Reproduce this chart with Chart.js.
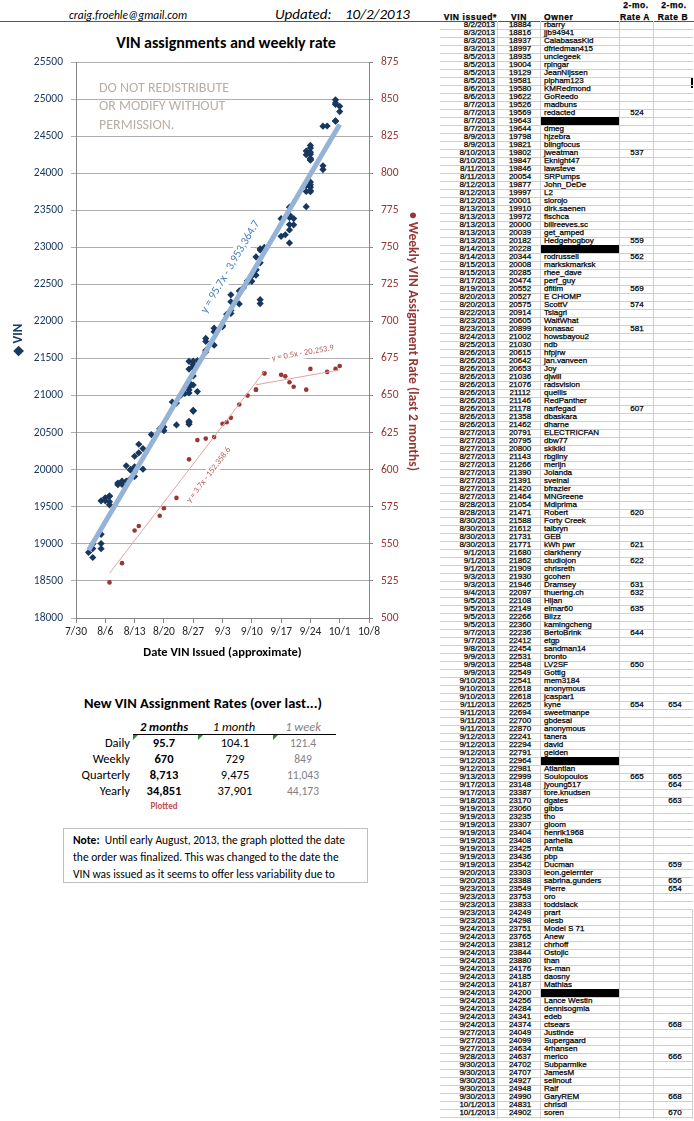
<!DOCTYPE html>
<html>
<head>
<meta charset="utf-8">
<script src="https://cdn.jsdelivr.net/npm/chart.js@4.4.0/dist/chart.umd.min.js"></script>
<style>
  body { margin: 0; background: #fff; font-family: Carlito, Lato, sans-serif; color: #000; }
  #page { position: relative; width: 694px; height: 1121px; overflow: hidden; }
  .abs { position: absolute; white-space: nowrap; }
  #vinChart { position: absolute; left: 0; top: 30px; }
  #rule { position: absolute; left: 0; top: 21px; width: 694px; height: 1px; background: #595959; }
  #note { position: absolute; left: 63px; top: 828px; width: 305px; height: 55px; border: 1px solid #bfbfbf; overflow: hidden;
          font-size: 11.5px; line-height: 17px; padding: 3px 0 0 9px; box-sizing: border-box; white-space: nowrap; }
  #vinTable { position: absolute; left: 0; top: 0; font-family: "Liberation Sans", Arial, sans-serif; font-size: 8px;
              -webkit-text-stroke: 0.25px #000; }
  .cell { position: absolute; line-height: 8px; height: 8px; white-space: nowrap; }
  .hline { position: absolute; height: 1px; background: #cfcfcf; }
  .vline { position: absolute; width: 1px; background: #cfcfcf; }
  .tri { position: absolute; width: 0; height: 0; border-top: 5px solid #2e8b2e; border-right: 5px solid transparent; }
</style>
</head>
<body>
<div id="page">
  <div class="abs" style="left:69px; top:7px; font-size:11.5px; font-style:italic; line-height:16px;">craig.froehle@gmail.com</div>
  <div class="abs" style="left:275px; top:5px; font-size:15px; font-style:italic; line-height:18px;">Updated:</div>
  <div class="abs" style="left:345px; top:5px; font-size:15px; font-style:italic; line-height:18px;">10/2/2013</div>
  <div id="rule"></div>
  <div class="abs" style="left:226px; top:34px; transform:translateX(-50%); font-size:16px; font-weight:bold; line-height:18px;">VIN assignments and weekly rate</div>

  <canvas id="vinChart" width="425" height="640"></canvas>

  <div class="abs" style="left:99px; top:79px; font-size:14px; line-height:18.3px; color:#b8aea4;">DO NOT REDISTRIBUTE<br>OR MODIFY WITHOUT<br>PERMISSION.</div>
  <div class="abs" style="left:404px; top:212px; writing-mode:vertical-rl; font-size:13.5px; font-weight:bold; color:#953735; line-height:18px;">&#8226; Weekly VIN Assignment Rate (last 2 months)</div>

  <div id="rates"></div>
  <div id="note"><b>Note:</b>&nbsp; Until early August, 2013, the graph plotted the date<br>the order was finalized. This was changed to the date the<br>VIN was issued as it seems to offer less variability due to</div>

  <div id="vinTable"></div>
</div>

<script>
// ---- data (read from the sheet on the right) ----
const _ = null;
const issuedDates = [
  '8/2/2013', '8/3/2013', '8/3/2013', '8/3/2013', '8/5/2013', '8/5/2013', '8/5/2013', '8/5/2013', '8/6/2013', '8/6/2013',
  '8/7/2013', '8/7/2013', '8/7/2013', '8/7/2013', '8/9/2013', '8/9/2013', '8/10/2013', '8/10/2013', '8/11/2013', '8/11/2013',
  '8/12/2013', '8/12/2013', '8/12/2013', '8/13/2013', '8/13/2013', '8/13/2013', '8/13/2013', '8/13/2013', '8/14/2013', '8/14/2013',
  '8/15/2013', '8/15/2013', '8/17/2013', '8/19/2013', '8/20/2013', '8/20/2013', '8/22/2013', '8/23/2013', '8/23/2013', '8/24/2013',
  '8/25/2013', '8/26/2013', '8/26/2013', '8/26/2013', '8/26/2013', '8/26/2013', '8/26/2013', '8/26/2013', '8/26/2013', '8/26/2013',
  '8/26/2013', '8/27/2013', '8/27/2013', '8/27/2013', '8/27/2013', '8/27/2013', '8/27/2013', '8/27/2013', '8/27/2013', '8/27/2013',
  '8/28/2013', '8/28/2013', '8/30/2013', '8/30/2013', '8/30/2013', '8/30/2013', '9/1/2013', '9/1/2013', '9/1/2013', '9/3/2013',
  '9/3/2013', '9/4/2013', '9/5/2013', '9/5/2013', '9/5/2013', '9/5/2013', '9/7/2013', '9/7/2013', '9/8/2013', '9/9/2013',
  '9/9/2013', '9/9/2013', '9/10/2013', '9/10/2013', '9/10/2013', '9/11/2013', '9/11/2013', '9/11/2013', '9/11/2013', '9/12/2013',
  '9/12/2013', '9/12/2013', '9/12/2013', '9/12/2013', '9/13/2013', '9/17/2013', '9/17/2013', '9/18/2013', '9/19/2013', '9/19/2013',
  '9/19/2013', '9/19/2013', '9/19/2013', '9/19/2013', '9/19/2013', '9/19/2013', '9/20/2013', '9/20/2013', '9/23/2013', '9/23/2013',
  '9/23/2013', '9/23/2013', '9/23/2013', '9/24/2013', '9/24/2013', '9/24/2013', '9/24/2013', '9/24/2013', '9/24/2013', '9/24/2013',
  '9/24/2013', '9/24/2013', '9/24/2013', '9/24/2013', '9/24/2013', '9/24/2013', '9/27/2013', '9/27/2013', '9/27/2013', '9/28/2013',
  '9/30/2013', '9/30/2013', '9/30/2013', '9/30/2013', '9/30/2013', '10/1/2013', '10/1/2013'
];
const vinNumbers = [
  18884, 18816, 18937, 18997, 18935, 19004, 19129, 19581, 19580, 19622,
  19526, 19569, 19643, 19644, 19798, 19821, 19802, 19847, 19846, 20054,
  19877, 19997, 20001, 19910, 19972, 20000, 20039, 20182, 20228, 20344,
  20008, 20285, 20474, 20552, 20527, 20575, 20914, 20605, 20899, 21002,
  21030, 20615, 20642, 20653, 21036, 21076, 21112, 21146, 21178, 21358,
  21462, 20791, 20795, 20800, 21143, 21266, 21390, 21391, 21420, 21464,
  21054, 21471, 21588, 21612, 21731, 21771, 21680, 21862, 21909, 21930,
  21946, 22097, 22108, 22149, 22266, 22360, 22236, 22412, 22454, 22531,
  22548, 22549, 22541, 22618, 22618, 22625, 22694, 22700, 22870, 22241,
  22294, 22791, 22964, 22981, 22999, 23148, 23387, 23170, 23060, 23235,
  23307, 23404, 23408, 23425, 23436, 23542, 23303, 23388, 23549, 23753,
  23833, 24249, 24298, 23751, 23765, 23812, 23844, 23880, 24176, 24185,
  24187, 24200, 24256, 24284, 24341, 24374, 24049, 24099, 24634, 24637,
  24702, 24707, 24927, 24948, 24990, 24831, 24902
];
const ownerNames = [
  'rbarry', 'jjb94941', 'CalabasasKid', 'dfriedman415', 'unclegeek', 'rpingar', 'JeanNijssen', 'plpham123', 'KMRedmond', 'GoReedo',
  'madbuns', 'redacted', _, 'dmeg', 'hjzebra', 'blingfocus', 'jweatman', 'Eknight47', 'lawsteve', 'SRPumps',
  'John_DeDe', 'L2', 'slorojo', 'dirk.saenen', 'fischca', 'billreeves.sc', 'get_amped', 'Hedgehogboy', _, 'rodrussell',
  'markskmarksk', 'rhee_dave', 'perf_guy', 'dfitim', 'E CHOMP', 'ScottV', 'Tslagrl', 'WaitWhat', 'konasac', 'howsbayou2',
  'ndb', 'hfpjrw', 'jan.vanveen', 'Joy', 'djwill', 'radsvision', 'quellis', 'RedPanther', 'narfegad', 'dbaskara',
  'dharne', 'ELECTRICFAN', 'dbw77', 'skikiki', 'rbgliny', 'merijn', 'Jolanda', 'sveinal', 'bfrazier', 'MNGreene',
  'Mdiprima', 'Robert', 'Forty Creek', 'talbryn', 'GEB', 'kWh pwr', 'clarkhenry', 'studiojon', 'chrisreth', 'gcohen',
  'Dramsey', 'thuering.ch', 'Hijan', 'elmar60', 'Blizz', 'kamingcheng', 'BertoBrink', 'etgp', 'sandman14', 'bronto',
  'LV2SF', 'Gottlg', 'mem3184', 'anonymous', 'jcaspar1', 'kyne', 'sweetmanpe', 'gbdesai', 'anonymous', 'tanera',
  'david', 'gelden', _, 'Atlantian', 'Soulopoulos', 'jyoung517', 'tore.knudsen', 'dgates', 'gibbs', 'tho',
  'gloom', 'henrik1968', 'parhelia', 'Arnta', 'pbp', 'Ducman', 'leon.gelernter', 'sabrina.gunders', 'Pierre', 'oro',
  'toddslack', 'prart', 'olesb', 'Model S 71', 'Anew', 'chrhoff', 'Ostojic', 'than', 'ks-man', 'daosny',
  'Mathias', _, 'Lance Westin', 'dennisogmia', 'edeb', 'ctsears', 'Justinde', 'Supergaard', '4rhansen', 'merico',
  'Subparmike', 'JamesM', 'sellnout', 'Ralf', 'GaryREM', 'chrisdl', 'soren'
];
const rateA = [
  _, _, _, _, _, _, _, _, _, _,
  _, 524, _, _, _, _, 537, _, _, _,
  _, _, _, _, _, _, _, 559, _, 562,
  _, _, _, 569, _, 574, _, _, 581, _,
  _, _, _, _, _, _, _, _, 607, _,
  _, _, _, _, _, _, _, _, _, _,
  _, 620, _, _, _, 621, _, 622, _, _,
  631, 632, _, 635, _, _, 644, _, _, _,
  650, _, _, _, _, 654, _, _, _, _,
  _, _, _, _, 665, _, _, _, _, _,
  _, _, _, _, _, _, _, _, _, _,
  _, _, _, _, _, _, _, _, _, _,
  _, _, _, _, _, _, _, _, _, _,
  _, _, _, _, _, _, _
];
const rateB = [
  _, _, _, _, _, _, _, _, _, _,
  _, _, _, _, _, _, _, _, _, _,
  _, _, _, _, _, _, _, _, _, _,
  _, _, _, _, _, _, _, _, _, _,
  _, _, _, _, _, _, _, _, _, _,
  _, _, _, _, _, _, _, _, _, _,
  _, _, _, _, _, _, _, _, _, _,
  _, _, _, _, _, _, _, _, _, _,
  _, _, _, _, _, 654, _, _, _, _,
  _, _, _, _, 665, 664, _, 663, _, _,
  _, _, _, _, _, 659, _, 656, 654, _,
  _, _, _, _, _, _, _, _, _, _,
  _, _, _, _, _, 668, _, _, _, 666,
  _, _, _, _, 668, _, 670
];
const dateTicks = ['7/30', '8/6', '8/13', '8/20', '8/27', '9/3', '9/10', '9/17', '9/24', '10/1', '10/8'];
const tickYear = 2013;

// summary table under the chart
const rateRows = ['Daily', 'Weekly', 'Quarterly', 'Yearly'];
const rateTwoMonths = ['95.7', '670', '8,713', '34,851'];
const rateOneMonth = ['104.1', '729', '9,475', '37,901'];
const rateOneWeek = ['121.4', '849', '11,043', '44,173'];

// trendline equations as printed on the chart
const vinTrendText = 'y = 95.7x - 3,953,364.7';
const rateATrendText = 'y = 3.7x - 152,358.6';
const rateBTrendText = 'y = 0.5x - 20,253.9';

// ---- helpers ----
// excel-style serial day number
const toSerial = function (s) {
  const p = s.split('/').map(Number);
  return Math.round((Date.UTC(p[2], p[0] - 1, p[1]) - Date.UTC(1899, 11, 30)) / 864e5);
};
const tickSerials = dateTicks.map(t => toSerial(t + '/' + tickYear));
const tickLabelFor = {};
tickSerials.forEach((v, i) => tickLabelFor[v] = dateTicks[i]);

const fitLine = function (pts) {
  let n = pts.length, sx = 0, sy = 0, sxx = 0, sxy = 0;
  pts.forEach(p => { sx += p.x; sy += p.y; sxx += p.x * p.x; sxy += p.x * p.y; });
  const m = (n * sxy - sx * sy) / (n * sxx - sx * sx);
  const b = (sy - m * sx) / n;
  const xs = pts.map(p => p.x);
  const x0 = Math.min.apply(null, xs), x1 = Math.max.apply(null, xs);
  return [{x: x0, y: m * x0 + b}, {x: x1, y: m * x1 + b}];
};

const vinPoints = issuedDates.map((d, i) => ({x: toSerial(d), y: vinNumbers[i]}));
const ratePointsA = [], ratePointsB = [];
issuedDates.forEach((d, i) => {
  if (rateA[i] !== null) ratePointsA.push({x: toSerial(d), y: rateA[i]});
  if (rateB[i] !== null) ratePointsB.push({x: toSerial(d), y: rateB[i]});
});

// label anchors, in data units
const trendNotes = [
  {text: vinTrendText, dataset: 3, axis: 'y', x: 41521.9, y: 22737, size: 11.5, color: '#4f81bd'},
  {text: rateATrendText, dataset: 4, axis: 'y2', x: 41516.7, y: 596.4, size: 8.5, color: '#b45a57'},
  {text: rateBTrendText, dataset: 5, axis: 'y2', x: 41539.2, y: 678.6, size: 8.5, color: '#b45a57'}
];

const trendLabels = {
  id: 'trendLabels',
  afterDatasetsDraw: function (chart) {
    const ctx = chart.ctx;
    trendNotes.forEach(n => {
      const meta = chart.getDatasetMeta(n.dataset);
      const a = meta.data[0], b = meta.data[1];
      const ang = Math.atan2(b.y - a.y, b.x - a.x);
      const cx = chart.scales.x.getPixelForValue(n.x);
      const cy = chart.scales[n.axis].getPixelForValue(n.y);
      ctx.save();
      ctx.translate(cx, cy);
      ctx.rotate(ang);
      ctx.font = n.size + 'px Carlito, Lato, sans-serif';
      const w = ctx.measureText(n.text).width;
      ctx.fillStyle = '#fff';
      ctx.fillRect(-w / 2 - 2, -n.size * 0.65, w + 4, n.size * 1.3);
      ctx.fillStyle = n.color;
      ctx.textAlign = 'center';
      ctx.textBaseline = 'middle';
      ctx.fillText(n.text, 0, 0);
      ctx.restore();
    });
  }
};

Chart.defaults.font.family = 'Carlito, Lato, sans-serif';

const vinChart = new Chart(document.getElementById('vinChart'), {
  type: 'scatter',
  data: {
    datasets: [
      {label: 'VIN', data: vinPoints, yAxisID: 'y', pointStyle: 'rectRot', pointRadius: 3.6,
        backgroundColor: '#17375e', borderWidth: 0, order: 3},
      {label: 'Rate A', data: ratePointsA, yAxisID: 'y2', pointStyle: 'circle', pointRadius: 2.3,
        backgroundColor: '#993735', borderWidth: 0, order: 3},
      {label: 'Rate B', data: ratePointsB, yAxisID: 'y2', pointStyle: 'circle', pointRadius: 2.3,
        backgroundColor: '#993735', borderWidth: 0, order: 3},
      {label: 'VIN trend', data: fitLine(vinPoints), yAxisID: 'y', showLine: true, pointRadius: 0,
        borderColor: '#95b3d7', borderWidth: 5, order: 1},
      {label: 'Rate A trend', data: fitLine(ratePointsA), yAxisID: 'y2', showLine: true, pointRadius: 0,
        borderColor: '#e6a3a1', borderWidth: 1, order: 2},
      {label: 'Rate B trend', data: fitLine(ratePointsB), yAxisID: 'y2', showLine: true, pointRadius: 0,
        borderColor: '#e6a3a1', borderWidth: 1, order: 2}
    ]
  },
  options: {
    responsive: false,
    animation: false,
    layout: {padding: {top: 32, left: 0, right: 0, bottom: 0}},
    plugins: {legend: {display: false}, tooltip: {enabled: false}},
    scales: {
      x: {
        type: 'linear', position: 'bottom',
        min: tickSerials[0], max: tickSerials[tickSerials.length - 1],
        afterBuildTicks: function (s) { s.ticks = tickSerials.map(v => ({value: v})); },
        afterFit: function (s) { s.height = 52; },
        ticks: {callback: v => tickLabelFor[v], color: '#262626', font: {size: 11.5}, padding: 2,
          maxRotation: 0, autoSkip: false},
        grid: {drawOnChartArea: false, color: '#868686', tickLength: 5},
        border: {color: '#868686'},
        title: {display: true, text: 'Date VIN Issued (approximate)', color: '#000',
          font: {size: 12.5, weight: 'bold'}, padding: {top: 0, bottom: 10}}
      },
      y: {
        position: 'left', min: 18000, max: 25500,
        afterFit: function (s) { s.width = 76; },
        ticks: {stepSize: 500, callback: v => String(v), color: '#17375e', font: {size: 11.5}, padding: 8},
        grid: {color: '#adadad', tickLength: 5},
        border: {color: '#868686'},
        title: {display: true, text: '\u25c6 VIN', color: '#17375e', font: {size: 13, weight: 'bold'},
          padding: {top: 11, bottom: 0}}
      },
      y2: {
        position: 'right', min: 500, max: 875,
        afterFit: function (s) { s.width = 56; },
        ticks: {stepSize: 25, color: '#953735', font: {size: 11.5}, padding: 8},
        grid: {drawOnChartArea: false, color: '#868686', tickLength: 4},
        border: {color: '#868686'}
      }
    }
  },
  plugins: [trendLabels]
});

// ---- summary table ----
const rates = document.getElementById('rates');
const put = function (parent, html, x, y, align, style) {
  const el = document.createElement('div');
  el.className = 'abs';
  el.innerHTML = html;
  el.style.left = x + 'px';
  el.style.top = (y - 8) + 'px';
  el.style.lineHeight = '16px';
  if (align === 'center') el.style.transform = 'translateX(-50%)';
  if (align === 'right') el.style.transform = 'translateX(-100%)';
  el.style.cssText += style || '';
  parent.appendChild(el);
  return el;
};
put(rates, 'New VIN Assignment Rates (over last...)', 203, 703, 'center', 'font-size:14.5px;font-weight:bold;');
put(rates, '2 months', 164, 727, 'center', 'font-size:12.5px;font-weight:bold;font-style:italic;');
put(rates, '1 month', 234, 727, 'center', 'font-size:12.5px;font-style:italic;');
put(rates, '1 week', 303, 727, 'center', 'font-size:12.5px;font-style:italic;color:#7f7f7f;');
const under = document.createElement('div');
under.style.cssText = 'position:absolute;left:133px;top:734px;width:203px;height:1px;background:#000;';
rates.appendChild(under);
[133, 198, 273].forEach(x => {
  const t = document.createElement('div');
  t.className = 'tri';
  t.style.left = x + 'px';
  t.style.top = '735px';
  rates.appendChild(t);
});
rateRows.forEach((r, i) => {
  const y = 743 + i * 16;
  put(rates, r, 130, y, 'right', 'font-size:12.5px;');
  put(rates, rateTwoMonths[i], 164, y, 'center', 'font-size:12.5px;font-weight:bold;');
  put(rates, rateOneMonth[i], 235, y, 'center', 'font-size:12.5px;');
  put(rates, rateOneWeek[i], 303, y, 'center', 'font-size:11.5px;color:#7f7f7f;');
});
put(rates, 'Plotted', 164, 806, 'center', 'font-size:9px;font-weight:bold;color:#c0504d;');

// ---- owner sheet ----
const sheet = document.getElementById('vinTable');
const rowTop = 21, rowH = 8;
const cell = function (text, x, y, align, extra) {
  const el = document.createElement('div');
  el.className = 'cell';
  el.textContent = text;
  el.style.left = x + 'px';
  el.style.top = y + 'px';
  if (align === 'center') el.style.transform = 'translateX(-50%)';
  if (align === 'right') el.style.transform = 'translateX(-100%)';
  if (extra) el.style.cssText += extra;
  sheet.appendChild(el);
};
const hb = 'font-weight:bold;font-size:8.5px;letter-spacing:0.6px;';
cell('2-mo.', 636, 1, 'center', hb);
cell('2-mo.', 674, 1, 'center', hb);
cell('VIN issued*', 497, 13, 'right', hb);
cell('VIN', 519, 13, 'center', hb);
cell('Owner', 544, 13, 'left', hb);
cell('Rate A', 635, 13, 'center', hb);
cell('Rate B', 673, 13, 'center', hb);

const nRows = issuedDates.length;
const tableBottom = rowTop + rowH * nRows + 2;
[497, 540, 619, 653].forEach(x => {
  const v = document.createElement('div');
  v.className = 'vline';
  v.style.left = x + 'px';
  v.style.top = rowTop + 'px';
  v.style.height = (tableBottom - rowTop) + 'px';
  sheet.appendChild(v);
});
const rv = document.createElement('div');
rv.className = 'vline';
rv.style.cssText += 'left:692px;top:909px;height:' + (tableBottom - 909) + 'px;';
sheet.appendChild(rv);
const mark = document.createElement('div');
mark.style.cssText = 'position:absolute;left:691px;top:78px;width:2px;height:10px;background:#000;';
sheet.appendChild(mark);

issuedDates.forEach((d, i) => {
  const y = rowTop + rowH * i;
  const line = document.createElement('div');
  line.className = 'hline';
  line.style.left = '440px';
  line.style.width = '253px';
  line.style.top = (y + rowH) + 'px';
  sheet.appendChild(line);
  cell(d, 495, y, 'right');
  cell(String(vinNumbers[i]), 520, y, 'center');
  if (ownerNames[i] === null) {
    const blk = document.createElement('div');
    blk.style.cssText = 'position:absolute;left:541px;width:78px;height:8px;background:#000;top:' + y + 'px;';
    sheet.appendChild(blk);
  } else {
    cell(ownerNames[i], 544, y, 'left');
  }
  if (rateA[i] !== null) cell(String(rateA[i]), 637, y, 'center');
  if (rateB[i] !== null) cell(String(rateB[i]), 675, y, 'center');
});
</script>
</body>
</html>
